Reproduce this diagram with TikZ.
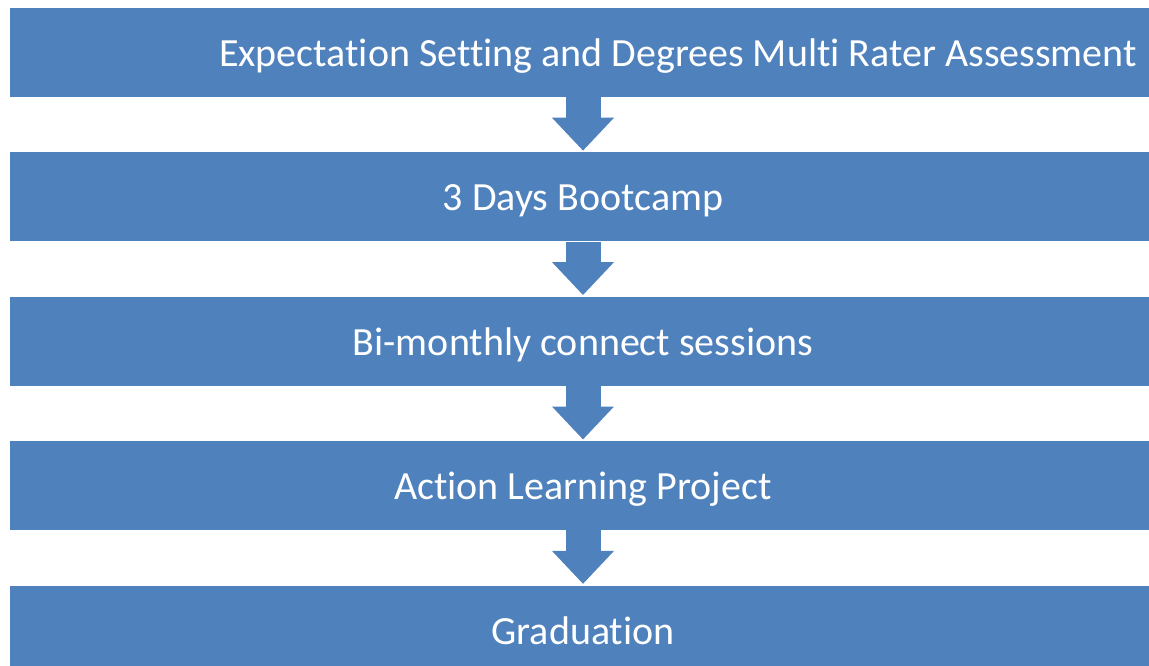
\documentclass[tikz,border=0pt]{standalone}
\usepackage{fontspec}
\setmainfont{Carlito}[RawFeature=-liga]
\usetikzlibrary{arrows.meta,positioning}
\definecolor{stageblue}{HTML}{4F81BD}
\tikzset{
  stage/.style={fill=stageblue,text=white,inner sep=0pt,minimum width=1146pt,minimum height=89pt,
    text height=36pt,text depth=8pt,font=\fontsize{40}{46}\selectfont},
  flow/.style={-{Triangle[width=60pt,length=33pt]},line width=35pt,stageblue,shorten >=1.5pt}
}

\begin{document}
\begin{tikzpicture}[node distance=55pt]
  \useasboundingbox (0,0) rectangle (1149pt,-666pt);

  \node[stage] (intro) at (583pt,-52.5pt) {};
  \node[stage,fill=none,xshift=95pt] (introtext) at (intro) {Expectation Setting and Degrees Multi Rater Assessment};
  \node[stage,below=of intro] (bootcamp) {3 Days Bootcamp};
  \node[stage,below=of bootcamp] (connect) {Bi-monthly connect sessions};
  \node[stage,below=of connect] (project) {Action Learning Project};
  \node[stage,below=of project] (grad) {Graduation};

  \foreach \a/\b in {intro/bootcamp,bootcamp/connect,connect/project,project/grad}
    \draw[flow] (\a) -- (\b);
\end{tikzpicture}
\end{document}
